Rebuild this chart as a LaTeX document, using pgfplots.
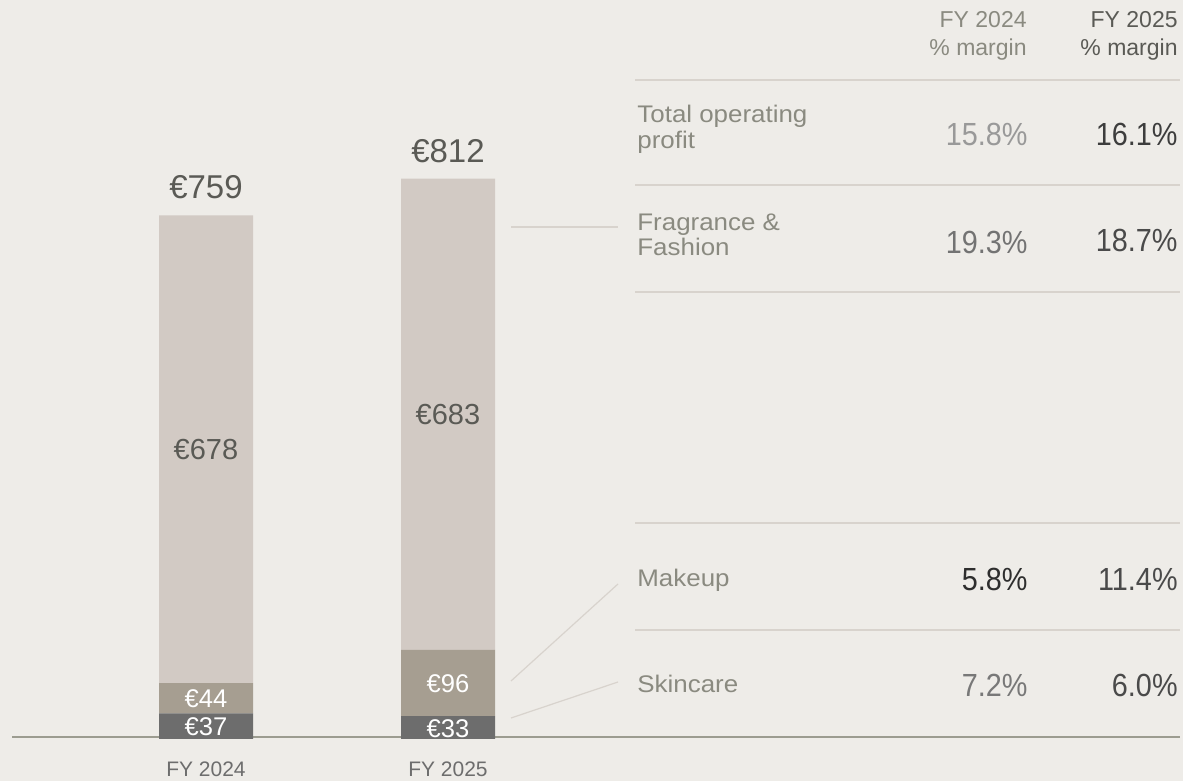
\documentclass[border=0pt]{standalone}
\usepackage{fontspec}
\setmainfont{Liberation Sans}
\newfontfamily\lblfont[FakeStretch=1.08]{Liberation Sans}
\newfontfamily\numfont[FakeStretch=0.9]{Liberation Sans}
\usepackage{pgfplots}
\pgfplotsset{compat=1.18}
\definecolor{bg}{HTML}{EEECE8}
\definecolor{lightbar}{HTML}{D2CAC4}
\definecolor{midbar}{HTML}{A69E91}
\definecolor{darkbar}{HTML}{6D6D6D}
\definecolor{axisline}{HTML}{9C9C90}
\definecolor{rule}{HTML}{D8D3CD}
\definecolor{lbl}{HTML}{8A8A80}
\definecolor{valtxt}{HTML}{5A5A55}
\begin{document}
\begin{tikzpicture}
\fill[bg] (0,0) rectangle (591.5pt,390.5pt);
\useasboundingbox (0,0) rectangle (591.5pt,390.5pt);
\begin{scope}[x=0.5pt,y=-0.5pt,shift={(0pt,390.5pt)}]
  \draw[axisline,line width=1pt] (12,737) -- (1180,737);
\end{scope}
\begin{axis}[
  at={(0,0)}, anchor=south west,
  scale only axis, width=591.5pt, height=390.5pt,
  xmin=-0.85124, xmax=4.03719, ymin=-60.87, ymax=1071.0,
  hide axis, clip=false,
  ybar stacked, bar width=47pt,
]
\addplot[fill=darkbar, draw=none] coordinates {(0,37) (1,33)};
\addplot[fill=midbar, draw=none] coordinates {(0,44) (1,96)};
\addplot[fill=lightbar, draw=none] coordinates {(0,678) (1,683)};
\end{axis}
\begin{scope}[x=0.5pt,y=-0.5pt,shift={(0pt,390.5pt)},every node/.style={inner sep=0pt}]
  % segment labels
  \node[white,font=\fontsize{12.8}{14}\selectfont] at (206,727) {€37};
  \node[white,font=\fontsize{12.8}{14}\selectfont] at (448,729) {€33};
  \node[white,font=\fontsize{12.8}{14}\selectfont] at (206,699) {€44};
  \node[white,font=\fontsize{12.8}{14}\selectfont] at (448,684) {€96};
  \node[valtxt,font=\fontsize{14.5}{16}\selectfont] at (206,450) {€678};
  \node[valtxt,font=\fontsize{14.5}{16}\selectfont] at (448,415) {€683};
  \node[valtxt,anchor=base,font=\fontsize{16.5}{18}\selectfont] at (206,199) {€759};
  \node[valtxt,anchor=base,font=\fontsize{16.5}{18}\selectfont] at (448,163) {€812};
  % category labels
  \node[darkbar,anchor=base,font=\fontsize{10.5}{12}\selectfont] at (206,777) {FY 2024};
  \node[darkbar,anchor=base,font=\fontsize{10.5}{12}\selectfont] at (448,777) {FY 2025};
  % leader lines
  \draw[rule,line width=0.6pt] (511,227) -- (618,227);
  \draw[rule,line width=0.6pt] (511,681) -- (618,584);
  \draw[rule,line width=0.6pt] (511,718) -- (618,682);
  % table rules
  \foreach \yy in {80,185,292,523,630} {\draw[rule,line width=0.75pt] (635,\yy) -- (1180,\yy);}
  % header
  \node[lbl,anchor=base east,font=\fontsize{11.5}{13}\selectfont] at (1027,28) {FY 2024};
  \node[lbl,anchor=base east,font=\fontsize{11.5}{13}\selectfont] at (1027,56) {\% margin};
  \node[valtxt,anchor=base east,font=\fontsize{11.5}{13}\selectfont] at (1178,28) {FY 2025};
  \node[valtxt,anchor=base east,font=\fontsize{11.5}{13}\selectfont] at (1178,56) {\% margin};
  % row labels
  \node[lbl,anchor=base west,font=\lblfont\fontsize{12}{13}\selectfont] at (637,123) {Total operating};
  \node[lbl,anchor=base west,font=\lblfont\fontsize{12}{13}\selectfont] at (637,149) {profit};
  \node[lbl,anchor=base west,font=\lblfont\fontsize{12}{13}\selectfont] at (637,231) {Fragrance \&};
  \node[lbl,anchor=base west,font=\lblfont\fontsize{12}{13}\selectfont] at (637,256) {Fashion};
  \node[lbl,anchor=base west,font=\lblfont\fontsize{12}{13}\selectfont] at (637,587) {Makeup};
  \node[lbl,anchor=base west,font=\lblfont\fontsize{12}{13}\selectfont] at (637,693) {Skincare};
  % values
  \node[anchor=base east,text=black!40,font=\numfont\fontsize{16}{18}\selectfont] at (1028,146) {15.8\%};
  \node[anchor=base east,text=black!76,font=\numfont\fontsize{16}{18}\selectfont] at (1178,146) {16.1\%};
  \node[anchor=base east,text=black!55,font=\numfont\fontsize{16}{18}\selectfont] at (1028,254) {19.3\%};
  \node[anchor=base east,text=black!71,font=\numfont\fontsize{16}{18}\selectfont] at (1178,252) {18.7\%};
  \node[anchor=base east,text=black!82,font=\numfont\fontsize{16}{18}\selectfont] at (1028,591) {5.8\%};
  \node[anchor=base east,text=black!71,font=\numfont\fontsize{16}{18}\selectfont] at (1178,591) {11.4\%};
  \node[anchor=base east,text=black!53,font=\numfont\fontsize{16}{18}\selectfont] at (1028,697) {7.2\%};
  \node[anchor=base east,text=black!71,font=\numfont\fontsize{16}{18}\selectfont] at (1178,697) {6.0\%};
\end{scope}
\end{tikzpicture}
\end{document}
